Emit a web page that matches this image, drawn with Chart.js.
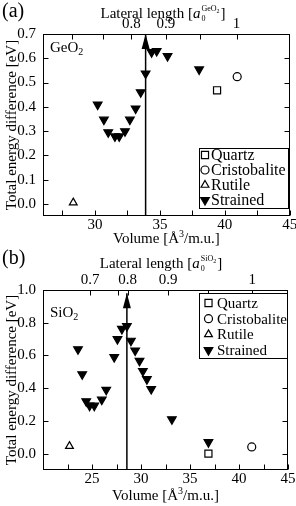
<!DOCTYPE html>
<html lang="en">
<head>
  <meta charset="UTF-8" />
  <title>Total energy difference vs volume</title>
  <script src="https://cdn.jsdelivr.net/npm/chart.js"></script>
  <style>
    body {
      margin: 0;
      background: #fff;
      width: 296px;
      height: 506px;
      position: relative;
      overflow: hidden;
    }
    .panel { position: absolute; left: 0; width: 296px; }
    #wrapA { top: 0; height: 248px; }
    #wrapB { top: 248px; height: 258px; }
  </style>
</head>
<body>
  <div class="panel" id="wrapA"><canvas id="chartA"></canvas></div>
  <div class="panel" id="wrapB"><canvas id="chartB"></canvas></div>

  <script>
    // ---- (a) GeO2 ----
    const volTicksA = [27.5, 30, 32.5, 35, 37.5, 40, 42.5, 45];
    const volLabelsA = ['', '30', '', '35', '', '40', '', '45'];
    const energyTicksA = [0, 0.1, 0.2, 0.3, 0.4, 0.5, 0.6, 0.7];
    const latVolA = [28.2, 30.65, 32.8, 35.45, 38.1, 40.9];
    const latLabelsA = ['', '', '0.8', '0.9', '', '1'];
    const quartzA = [[39.4, 0.468]];
    const cristobaliteA = [[40.95, 0.524]];
    const rutileA = [[28.33, 0.005]];
    const strainedA = [
      [30.21, 0.409], [30.69, 0.347], [31.02, 0.295], [31.54, 0.278],
      [31.87, 0.278], [32.31, 0.299], [32.69, 0.347], [33.13, 0.393],
      [33.52, 0.46], [33.9, 0.537], [34.36, 0.625], [34.75, 0.63],
      [35.59, 0.609], [38.02, 0.554]
    ];
    const arrowA = [[33.9, -0.05], [33.9, 0.7]];

    // ---- (b) SiO2 ----
    const volTicksB = [22.5, 25, 27.5, 30, 32.5, 35, 37.5, 40, 42.5, 45];
    const volLabelsB = ['', '25', '', '30', '', '35', '', '40', '', '45'];
    const energyTicksB = [0, 0.2, 0.4, 0.6, 0.8, 1.0];
    const latVolB = [24.82, 27.68, 28.64, 32.77, 36.85, 41.34];
    const latLabelsB = ['0.7', '', '0.8', '0.9', '', '1'];
    const quartzB = [[36.88, 0.0]];
    const cristobaliteB = [[41.3, 0.041]];
    const rutileB = [[22.7, 0.046]];
    const strainedB = [
      [23.57, 0.638], [24.0, 0.485], [24.41, 0.32], [24.75, 0.293],
      [25.23, 0.293], [26.0, 0.33], [26.45, 0.39], [27.27, 0.59],
      [27.6, 0.70], [28.05, 0.762], [28.56, 0.78], [28.97, 0.69],
      [29.4, 0.63], [29.85, 0.567], [30.19, 0.505], [30.6, 0.455],
      [31.04, 0.395], [33.15, 0.21], [36.88, 0.07]
    ];
    const arrowB = [[28.56, -0.1], [28.56, 0.98]];

    const SERIF = '"Liberation Serif", "Times New Roman", serif';
    const font = (size, style) => (style ? style + ' ' : '') + size + 'px ' + SERIF;

    function drawLateral(ctx, cx, base, comp) {
      const pieces = [
        { t: 'Lateral length [', f: font(15), dy: 0 },
        { t: 'a', f: font(15, 'italic'), dy: 0 }
      ];
      ctx.font = font(15); const w1 = ctx.measureText(pieces[0].t).width;
      ctx.font = font(15, 'italic'); const w2 = ctx.measureText('a').width;
      ctx.font = font(8); const wSub = ctx.measureText('0').width;
      const wSupA = ctx.measureText(comp).width;
      ctx.font = font(6); const wSupB = ctx.measureText('2').width;
      const wScript = Math.max(wSub, wSupA + wSupB);
      ctx.font = font(15); const w3 = ctx.measureText(']').width;
      let x = cx - (w1 + w2 + wScript + 2 + w3) / 2;
      ctx.textAlign = 'left';
      ctx.textBaseline = 'alphabetic';
      ctx.font = font(15); ctx.fillText(pieces[0].t, x, base); x += w1;
      ctx.font = font(15, 'italic'); ctx.fillText('a', x, base); x += w2 + 1;
      ctx.font = font(8); ctx.fillText('0', x, base + 3);
      ctx.fillText(comp, x, base - 7);
      ctx.font = font(6); ctx.fillText('2', x + wSupA, base - 5);
      x += wScript + 1;
      ctx.font = font(15); ctx.fillText(']', x, base);
    }

    function buildChart(id, p) {
      const pts = arr => arr.map(([x, y]) => ({ x, y }));
      const mk = (label, data, style, extra) => Object.assign({
        type: 'scatter', label, data: pts(data), showLine: false,
        pointStyle: style, pointBorderColor: '#000', pointBackgroundColor: '#fff',
        pointBorderWidth: 1.2, pointRadius: 4.5, pointRotation: 0
      }, extra);

      const L = p.L;
      const decor = {
        id: 'decor',
        afterDatasetsDraw(chart) {
          const { ctx, chartArea: a, scales } = chart;
          ctx.save();
          ctx.strokeStyle = '#000';
          ctx.fillStyle = '#000';
          ctx.lineWidth = 1;
          const seg = (x1, y1, x2, y2) => { ctx.beginPath(); ctx.moveTo(x1, y1); ctx.lineTo(x2, y2); ctx.stroke(); };
          const l = Math.round(a.left) + 0.5, r = Math.round(a.right) - 0.5;
          const t = Math.round(a.top) + 0.5, b = Math.round(a.bottom) - 0.5;
          ctx.strokeRect(l, t, r - l, b - t);
          scales.y.ticks.forEach(tk => {
            const py = Math.round(scales.y.getPixelForValue(tk.value)) + 0.5;
            seg(l, py, l + 5, py); seg(r - 5, py, r, py);
          });
          scales.x.ticks.forEach(tk => {
            const px = Math.round(scales.x.getPixelForValue(tk.value)) + 0.5;
            seg(px, b, px, b - 5);
          });
          scales.x2.ticks.forEach(tk => {
            const px = Math.round(scales.x2.getPixelForValue(tk.value)) + 0.5;
            seg(px, t, px, t + 5);
          });

          // arrow head at the top end of the arrow line
          const tip = chart.getDatasetMeta(4).data[1];
          ctx.beginPath();
          ctx.moveTo(tip.x, tip.y);
          ctx.lineTo(tip.x + 4, tip.y + 15);
          ctx.lineTo(tip.x - 4, tip.y + 15);
          ctx.closePath();
          ctx.fill();

          // legend
          const g = L.leg;
          ctx.fillStyle = '#fff';
          ctx.fillRect(g.x, g.y, g.w, g.h);
          ctx.strokeRect(g.x + 0.5, g.y + 0.5, g.w, g.h);
          chart.data.datasets.slice(0, 4).forEach((ds, i) => {
            const yy = g.y + g.first + i * g.step;
            ctx.fillStyle = ds.pointBackgroundColor;
            ctx.strokeStyle = ds.pointBorderColor;
            ctx.lineWidth = ds.pointBorderWidth;
            Chart.helpers.drawPoint(ctx, {
              pointStyle: ds.pointStyle, rotation: ds.pointRotation,
              radius: ds.pointRadius, borderWidth: ds.pointBorderWidth
            }, g.x + g.markX, yy);
            ctx.fillStyle = '#000';
            ctx.font = font(g.font);
            ctx.textAlign = 'left';
            ctx.textBaseline = 'middle';
            ctx.fillText(ds.label, g.x + g.textX, yy + 1);
          });
          ctx.restore();
        },
        afterDraw(chart) {
          const { ctx, chartArea: a } = chart;
          ctx.save();
          ctx.fillStyle = '#000';
          ctx.textBaseline = 'alphabetic';
          // panel tag
          ctx.font = font(20);
          ctx.textAlign = 'left';
          ctx.fillText(p.tag, 2, L.tagBase);
          // top title
          drawLateral(ctx, L.latCx, L.latBase, p.comp);
          // compound label inside plot
          ctx.font = font(15);
          ctx.textAlign = 'left';
          ctx.fillText(p.comp, L.compX, L.compBase);
          const wc = ctx.measureText(p.comp).width;
          ctx.font = font(10);
          ctx.fillText('2', L.compX + wc, L.compBase + 3);
          // x title
          const s1 = 'Volume [Å', s2 = '3', s3 = '/m.u.]';
          ctx.font = font(15); const w1 = ctx.measureText(s1).width, w3 = ctx.measureText(s3).width;
          ctx.font = font(10); const w2 = ctx.measureText(s2).width;
          let x = (a.left + a.right) / 2 - (w1 + w2 + w3) / 2;
          ctx.font = font(15); ctx.fillText(s1, x, L.xTitleBase); x += w1;
          ctx.font = font(10); ctx.fillText(s2, x, L.xTitleBase - 6); x += w2;
          ctx.font = font(15); ctx.fillText(s3, x, L.xTitleBase);
          // y title
          ctx.translate(L.yTitleX, (a.top + a.bottom) / 2);
          ctx.rotate(-Math.PI / 2);
          ctx.textAlign = 'center';
          ctx.textBaseline = 'middle';
          ctx.font = font(15);
          ctx.fillText('Total energy difference [eV]', 0, 0);
          ctx.restore();
        }
      };

      const tickFont = { family: SERIF, size: 15 };
      const noGrid = { display: false, drawTicks: false };

      return new Chart(document.getElementById(id), {
        type: 'scatter',
        data: {
          datasets: [
            mk('Quartz', p.quartz, 'rect', { pointRadius: 5 }),
            mk('Cristobalite', p.cristobalite, 'circle', { pointRadius: 4 }),
            mk('Rutile', p.rutile, 'triangle', { pointRadius: 4.5 }),
            mk('Strained', p.strained, 'triangle', { pointRotation: 180, pointBackgroundColor: '#000', pointRadius: 5 }),
            { type: 'line', label: 'arrow', data: pts(p.arrow), borderColor: '#000', borderWidth: 1.5, pointRadius: 0, fill: false }
          ]
        },
        options: {
          responsive: true,
          maintainAspectRatio: false,
          animation: false,
          events: [],
          layout: { padding: { left: 0, top: 0, right: L.rightPad, bottom: 0 } },
          plugins: { legend: { display: false }, tooltip: { enabled: false } },
          scales: {
            x: {
              type: 'linear', position: 'bottom', min: p.xMin, max: p.xMax,
              grid: noGrid, border: { display: false },
              afterBuildTicks: s => { s.ticks = p.volTicks.map(v => ({ value: v })); },
              ticks: { autoSkip: false, maxRotation: 0, padding: 0, color: '#000', font: tickFont,
                       callback: (v, i) => p.volLabels[i] },
              afterFit: s => { s.height = L.botH; s.paddingLeft = 0; s.paddingRight = 0; }
            },
            x2: {
              type: 'linear', position: 'top', min: p.xMin, max: p.xMax,
              grid: noGrid, border: { display: false },
              afterBuildTicks: s => { s.ticks = p.latVol.map(v => ({ value: v })); },
              ticks: { autoSkip: false, maxRotation: 0, padding: 1, color: '#000', font: tickFont,
                       callback: (v, i) => p.latLabels[i] },
              afterFit: s => { s.height = L.topH; s.paddingLeft = 0; s.paddingRight = 0; }
            },
            y: {
              type: 'linear', position: 'left', min: p.yMin, max: p.yMax,
              grid: noGrid, border: { display: false },
              afterBuildTicks: s => { s.ticks = p.energyTicks.map(v => ({ value: v })); },
              ticks: { autoSkip: false, padding: 7, color: '#000', font: tickFont,
                       callback: v => v.toFixed(1) },
              afterFit: s => { s.width = 43; s.paddingTop = 0; s.paddingBottom = 0; }
            }
          }
        },
        plugins: [decor]
      });
    }

    buildChart('chartA', {
      tag: '(a)', comp: 'GeO',
      xMin: 26, xMax: 45, yMin: -0.05, yMax: 0.7,
      volTicks: volTicksA, volLabels: volLabelsA, energyTicks: energyTicksA,
      latVol: latVolA, latLabels: latLabelsA,
      quartz: quartzA, cristobalite: cristobaliteA, rutile: rutileA, strained: strainedA, arrow: arrowA,
      L: {
        rightPad: 6, topH: 34, botH: 32,
        tagBase: 17, latCx: 163, latBase: 18, compX: 50, compBase: 52,
        xTitleBase: 243, yTitleX: 12,
        leg: { x: 199, y: 148, w: 89, h: 60, markX: 6, textX: 12, first: 7, step: 15, font: 16 }
      }
    });

    buildChart('chartB', {
      tag: '(b)', comp: 'SiO',
      xMin: 20, xMax: 45, yMin: -0.1, yMax: 1.0,
      volTicks: volTicksB, volLabels: volLabelsB, energyTicks: energyTicksB,
      latVol: latVolB, latLabels: latLabelsB,
      quartz: quartzB, cristobalite: cristobaliteB, rutile: rutileB, strained: strainedB, arrow: arrowB,
      L: {
        rightPad: 8, topH: 42, botH: 36,
        tagBase: 16, latCx: 161, latBase: 20, compX: 50, compBase: 69,
        xTitleBase: 252, yTitleX: 12,
        leg: { x: 199, y: 45, w: 88, h: 65, markX: 9.5, textX: 18, first: 10, step: 15.7, font: 15 }
      }
    });
  </script>
</body>
</html>
